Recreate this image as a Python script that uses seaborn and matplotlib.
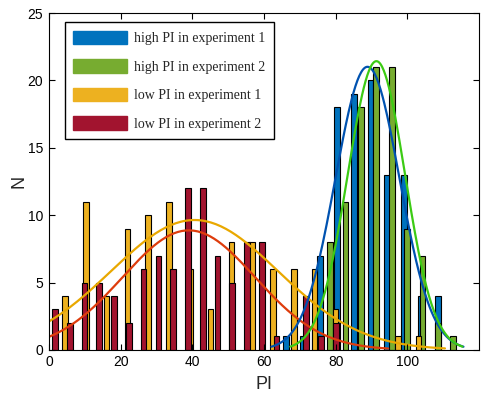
import numpy as np
import pandas as pd
import matplotlib
matplotlib.use("Agg")
import matplotlib.pyplot as plt
import seaborn as sns
from matplotlib.patches import Patch

# Bin centres (start, step) and counts for each group
high1_start, high1_step = 66.2, 4.7
high1_counts = [1, 1, 7, 18, 19, 20, 13, 13, 4, 4]

high2_start, high2_step = 74.1, 4.3
high2_counts = [2, 8, 11, 18, 21, 21, 9, 7, 2, 1]

low1_start, low1_step = 4.5, 5.8
low1_counts = [4, 11, 4, 9, 10, 11, 6, 3, 8, 8, 6, 6, 6, 3, 0, 0, 1, 1]

low2_start, low2_step = 1.7, 4.12
low2_counts = [3, 2, 5, 5, 4, 2, 6, 7, 6, 12, 12, 7, 5, 8, 8, 1, 0, 4, 1, 2]

labels = ['high PI in experiment 1', 'high PI in experiment 2',
          'low PI in experiment 1', 'low PI in experiment 2']
bar_colors = ['#0072BD', '#77AC30', '#EDB120', '#A2142F']
fit_colors = ['#0052B0', '#3CCB14', '#E9A800', '#DE3C0C']

x_ticks = [0, 20, 40, 60, 80, 100]
y_ticks = [0, 5, 10, 15, 20, 25]

groups = [
    (high1_start, high1_step, high1_counts),
    (high2_start, high2_step, high2_counts),
    (low1_start, low1_step, low1_counts),
    (low2_start, low2_step, low2_counts),
]

sns.set_style("white")
plt.rcParams.update({
    'xtick.bottom': True, 'xtick.top': True, 'ytick.left': True, 'ytick.right': True,
    'xtick.direction': 'in', 'ytick.direction': 'in',
    'xtick.major.size': 4, 'ytick.major.size': 4,
    'xtick.major.width': 0.8, 'ytick.major.width': 0.8,
    'axes.axisbelow': False,
})

fig = plt.figure(figsize=(4.84, 3.98), dpi=100)
ax = fig.add_axes([0.101, 0.121, 0.889, 0.846])

bar_w = 1.6
bar_z = [2.0, 2.1, 2.2, 2.3]
fit_z = [2.6, 2.7, 2.4, 2.5]

for i, (start, step, counts) in enumerate(groups):
    counts = np.array(counts, dtype=float)
    centers = start + step * np.arange(len(counts))
    df = pd.DataFrame({'PI': centers, 'n': counts})
    sns.histplot(data=df, x='PI', weights='n', binwidth=step,
                 binrange=(centers[0] - step / 2, centers[-1] + step / 2),
                 shrink=bar_w / step,
                 color=bar_colors[i], edgecolor='black', linewidth=0.8,
                 alpha=1, ax=ax, zorder=bar_z[i])

    # normal fit like histfit: N * binwidth * pdf, over mu +- 3 sigma
    total = counts.sum()
    mu = (centers * counts).sum() / total
    sigma = np.sqrt(((centers - mu) ** 2 * counts).sum() / (total - 1))
    xs = np.linspace(mu - 3 * sigma, mu + 3 * sigma, 200)
    ys = total * step / (sigma * np.sqrt(2 * np.pi)) * np.exp(-(xs - mu) ** 2 / (2 * sigma ** 2))
    sns.lineplot(x=xs, y=ys, color=fit_colors[i], linewidth=1.6, ax=ax,
                 zorder=fit_z[i], sort=False)

ax.set_xlim(0, 120)
ax.set_ylim(0, 25)
ax.set_xticks(x_ticks)
ax.set_yticks(y_ticks)
ax.tick_params(direction='in', length=4, width=0.8, bottom=True, left=True,
               top=True, right=True, labelsize=10, colors='black', pad=4)
for lab in ax.get_xticklabels() + ax.get_yticklabels():
    lab.set_family(['Liberation Sans', 'DejaVu Sans'])
for s in ax.spines.values():
    s.set_color('black')
    s.set_linewidth(0.8)

ax.set_xlabel('PI', fontsize=13, family=['Liberation Sans', 'DejaVu Sans'], labelpad=5)
ax.set_ylabel('N', fontsize=13, family=['Liberation Sans', 'DejaVu Sans'], labelpad=0)

handles = [Patch(facecolor=c, edgecolor=c) for c in bar_colors]
leg = ax.legend(handles, labels, loc='upper left', bbox_to_anchor=(0.037, 0.973),
                prop={'family': ['Liberation Serif', 'DejaVu Serif'], 'size': 10},
                frameon=True, fancybox=False, edgecolor='black', framealpha=1,
                handlelength=3.9, handleheight=1.15, handletextpad=0.5,
                labelspacing=1.0, borderpad=0.6, borderaxespad=0)
leg.get_frame().set_linewidth(1.0)
leg.set_zorder(5)

fig.savefig('out.png', dpi=100)
